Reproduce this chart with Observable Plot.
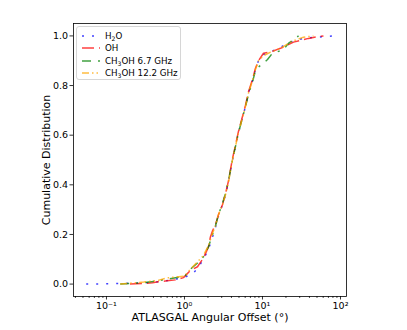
<!DOCTYPE html>
<html><head><meta charset="utf-8">
<script src="https://cdn.jsdelivr.net/npm/d3@7"></script>
<script src="https://cdn.jsdelivr.net/npm/@observablehq/plot@0.6"></script>
<style>
body{margin:0;background:#fff;}
#wrap{position:relative;width:407px;height:330px;font-family:"DejaVu Sans",sans-serif;}
#legend{position:absolute;left:76px;top:26px;width:105px;height:54px;box-sizing:border-box;border:1px solid #d6d6d6;border-radius:3px;background:rgba(255,255,255,0.8);font-size:8.7px;color:#000;}
.row{position:absolute;left:0;height:12px;width:100%;}
.row svg{position:absolute;left:4px;top:0;}
.row span{position:absolute;left:28px;top:0;line-height:12px;white-space:nowrap;}
.row sub{font-size:70%;vertical-align:-0.25em;line-height:0;}
</style></head>
<body>
<div id="wrap"></div>
<script>
// ---- data ----
const seriesNames = ["H2O", "OH", "CH3OH 6.7 GHz", "CH3OH 12.2 GHz"];
const seriesLabelsHTML = ["H<sub>2</sub>O", "OH", "CH<sub>3</sub>OH 6.7 GHz", "CH<sub>3</sub>OH 12.2 GHz"];

const xH2O = [0.055, 0.30, 0.52, 0.84, 1.05, 1.27, 1.47, 1.75, 2.03, 2.29, 2.5, 2.73, 3.07, 3.36, 3.66, 4.12, 4.51, 4.92, 5.54, 6.05, 6.62, 7.45, 8.13, 8.89, 10.3, 12.7, 14.7, 17.0, 21.5, 25.0, 33.6, 50.0, 81.3];
const yH2O = [0, 0.004, 0.011, 0.022, 0.03, 0.042, 0.062, 0.10, 0.14, 0.19, 0.23, 0.275, 0.32, 0.36, 0.41, 0.50, 0.555, 0.61, 0.67, 0.715, 0.77, 0.82, 0.865, 0.90, 0.925, 0.935, 0.945, 0.955, 0.97, 0.98, 0.99, 0.995, 1.0];

const xOH = [0.2, 0.39, 0.46, 0.6, 0.77, 0.97, 1.19, 1.47, 1.75, 2.03, 2.15, 2.29, 2.5, 2.73, 3.07, 3.36, 3.66, 4.12, 4.51, 4.92, 5.54, 6.05, 6.62, 7.45, 8.13, 8.89, 10.3, 12.7, 17.0, 21.5, 25.0, 33.6, 38.9, 50.7, 60.5];
const yOH = [0, 0.005, 0.009, 0.013, 0.017, 0.026, 0.055, 0.07, 0.105, 0.15, 0.19, 0.215, 0.24, 0.28, 0.32, 0.365, 0.415, 0.505, 0.56, 0.615, 0.675, 0.72, 0.775, 0.825, 0.87, 0.9, 0.93, 0.935, 0.95, 0.965, 0.975, 0.985, 0.99, 0.997, 1.0];

const xM67 = [0.15, 0.3, 0.39, 0.6, 0.77, 1.0, 1.19, 1.47, 1.75, 2.03, 2.29, 2.5, 2.73, 3.07, 3.36, 3.66, 4.12, 4.51, 4.92, 5.54, 6.05, 6.62, 7.45, 8.13, 8.89, 10.3, 11.6, 13.4, 17.0, 18.6, 21.5, 25.0, 29.0];
const yM67 = [0, 0.006, 0.01, 0.02, 0.026, 0.03, 0.06, 0.085, 0.11, 0.15, 0.2, 0.235, 0.28, 0.325, 0.365, 0.415, 0.5, 0.555, 0.61, 0.67, 0.715, 0.765, 0.815, 0.86, 0.875, 0.89, 0.905, 0.93, 0.94, 0.945, 0.97, 0.985, 1.0];

const xM122 = [0.15, 0.3, 0.46, 0.6, 0.84, 1.0, 1.19, 1.47, 1.75, 2.03, 2.29, 2.5, 2.73, 3.07, 3.36, 3.66, 4.12, 4.51, 4.92, 5.54, 6.05, 6.62, 7.45, 8.13, 8.89, 10.3, 12.7, 17.0, 21.5, 25.0, 33.6, 45.0];
const yM122 = [0, 0.008, 0.015, 0.025, 0.03, 0.032, 0.06, 0.09, 0.115, 0.155, 0.205, 0.235, 0.28, 0.32, 0.36, 0.41, 0.5, 0.555, 0.61, 0.67, 0.715, 0.77, 0.82, 0.865, 0.9, 0.92, 0.935, 0.95, 0.97, 0.98, 0.995, 1.0];

const majorX = [0.1, 1, 10, 100];
const xTickLabels = ["10⁻¹", "10⁰", "10¹", "10²"];
const minorX = [0.04, 0.05, 0.06, 0.07, 0.08, 0.09, 0.2, 0.3, 0.4, 0.5, 0.6, 0.7, 0.8, 0.9, 2, 3, 4, 5, 6, 7, 8, 9, 20, 30, 40, 50, 60, 70, 80, 90];
const yTicks = [0, 0.2, 0.4, 0.6, 0.8, 1.0];
const xLabel = "ATLASGAL Angular Offset (°)";
const yLabel = "Cumulative Distribution";

// ---- styles ----
const colors = ["#0000ff", "#ff0000", "#008000", "#ffa500"];
const dashes = ["2,8", "12,5", "9,7,2,7", "7,3,1.5,3,1.5,3"];

const xs = [xH2O, xOH, xM67, xM122];
const ys = [yH2O, yOH, yM67, yM122];
const tables = xs.map((xa, k) => xa.map((x, i) => ({x, y: ys[k][i], s: seriesNames[k]})));

const lineMarks = tables.map((t, k) => Plot.line(t, {
  x: "x", y: "y", stroke: colors[k], strokeWidth: 1.5, strokeOpacity: 0.75,
  strokeDasharray: dashes[k], strokeLinecap: "butt"
}));

const chart = Plot.plot({
  width: 407, height: 330,
  marginLeft: 73, marginRight: 61, marginTop: 23, marginBottom: 34,
  style: {fontFamily: "DejaVu Sans", fontSize: "9.5px", color: "#000", background: "#fff", overflow: "visible"},
  x: {type: "log", domain: [0.0378, 119.4]},
  y: {domain: [-0.05, 1.05]},
  marks: [
    Plot.axisX({ticks: minorX, tickSize: 2, tickFormat: () => "", label: null, strokeWidth: 0.7}),
    Plot.axisX({ticks: majorX, tickSize: 3.5, tickPadding: 2, tickFormat: (d) => xTickLabels[majorX.indexOf(d)], label: null, strokeWidth: 0.8}),
    Plot.axisY({ticks: yTicks, tickSize: 3.5, tickPadding: 2, tickFormat: d3.format(".1f"), label: null, strokeWidth: 0.8}),
    ...lineMarks,
    Plot.frame({stroke: "#000", strokeWidth: 0.8}),
    Plot.text([xLabel], {text: d => d, frameAnchor: "bottom", dy: 20.5, fontSize: 11, textAnchor: "middle", lineAnchor: "middle"}),
    Plot.text([yLabel], {text: d => d, frameAnchor: "left", dx: -27.5, rotate: -90, fontSize: 11, textAnchor: "middle", lineAnchor: "middle"})
  ]
});

const wrap = document.getElementById("wrap");
wrap.appendChild(chart);

// legend overlay
const legend = document.createElement("div");
legend.id = "legend";
const rowCenters = [9, 21, 33.5, 46];
seriesNames.forEach((name, k) => {
  const row = document.createElement("div");
  row.className = "row";
  row.style.top = (rowCenters[k] - 6) + "px";
  row.innerHTML = `<svg width="20" height="12"><line x1="1" x2="19" y1="6" y2="6" stroke="${colors[k]}" stroke-opacity="0.75" stroke-width="1.5" stroke-dasharray="${dashes[k]}"/></svg><span>${seriesLabelsHTML[k]}</span>`;
  legend.appendChild(row);
});
wrap.appendChild(legend);
</script>
</body></html>
